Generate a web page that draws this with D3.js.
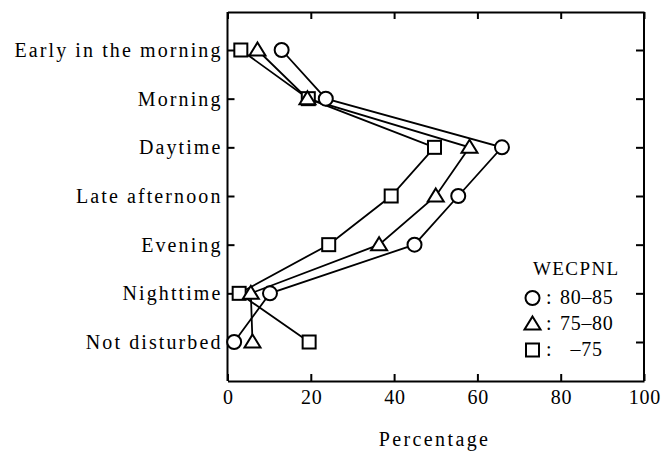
<!DOCTYPE html>
<html>
<head>
<meta charset="utf-8">
<script src="https://cdn.jsdelivr.net/npm/d3@7"></script>
<style>
  body { margin: 0; background: #fff; }
  svg text { font-family: "Liberation Serif", "Times New Roman", Times, serif !important; fill: #000; }
</style>
</head>
<body>
<script>
// categories (top to bottom) and percentages per WECPNL class
var categories = ["Early in the morning", "Morning", "Daytime", "Late afternoon", "Evening", "Nighttime", "Not disturbed"];
var wecpnl80_85 = [13.0, 23.6, 65.9, 55.4, 44.9, 10.2, 1.6];
var wecpnl75_80 = [7.2, 19.2, 58.1, 50.0, 36.4, 5.6, 6.0];
var wecpnlUnder75 = [3.2, 19.4, 49.7, 39.3, 24.3, 2.8, 19.6];
var xTicks = [0, 20, 40, 60, 80, 100];
var legendTitle = "WECPNL";
var legendLabels = ["80\u201385", "75\u201380", "\u201375"];

var width = 667, height = 457;
var frameTop = 12, frameBottom = 381;

var svg = d3.select("body").append("svg")
    .attr("width", width)
    .attr("height", height);

var x = d3.scaleLinear().domain([0, 100]).range([227.5, 644]);
var y = d3.scalePoint().domain(categories).range([50, 342]);

// marker shapes
var shapes = {
  circle: function(g) { g.append("circle").attr("r", 7); },
  triangle: function(g) { g.append("path").attr("d", "M0,-7.5L8,5.5L-8,5.5Z"); },
  square: function(g) { g.append("rect").attr("x", -6.5).attr("y", -6.5).attr("width", 13).attr("height", 13); }
};

// draw order: squares below, circles on top
var series = [
  {values: wecpnlUnder75, shape: "square"},
  {values: wecpnl75_80, shape: "triangle"},
  {values: wecpnl80_85, shape: "circle"}
];

// frame / axes
function styleAxis(g) {
  g.attr("font-family", null);
  g.selectAll(".domain").attr("stroke", "#000").attr("stroke-width", 2);
  g.selectAll(".tick line").attr("stroke", "#000").attr("stroke-width", 2);
}

svg.append("g")
    .attr("transform", "translate(0," + frameBottom + ")")
    .call(d3.axisBottom(x).tickValues(xTicks).tickSizeInner(-7).tickSizeOuter(0).tickPadding(9))
    .call(styleAxis)
    .call(function(g) {
      g.selectAll(".tick text").attr("font-size", 20).attr("letter-spacing", 0.8).attr("dx", 0.4);
    });

svg.append("g")
    .attr("transform", "translate(0," + frameTop + ")")
    .call(d3.axisTop(x).tickValues(xTicks).tickSizeInner(-7).tickSizeOuter(0).tickFormat(""))
    .call(styleAxis);

svg.append("g")
    .attr("transform", "translate(" + x(0) + ",0)")
    .call(d3.axisLeft(y).tickSizeInner(-7).tickSizeOuter(0).tickPadding(5))
    .call(styleAxis)
    .call(function(g) {
      g.select(".domain").attr("d", "M0," + frameTop + "V" + frameBottom);
      g.selectAll(".tick text").attr("font-size", 20).attr("letter-spacing", 2.1);
    });

svg.append("g")
    .attr("transform", "translate(" + x(100) + ",0)")
    .call(d3.axisRight(y).tickSizeInner(-8).tickSizeOuter(0).tickFormat(""))
    .call(styleAxis)
    .call(function(g) {
      g.select(".domain").attr("d", "M0," + frameTop + "V" + frameBottom);
    });

// lines
var line = d3.line()
    .x(function(d) { return x(d[0]); })
    .y(function(d) { return y(d[1]); });

series.forEach(function(s) {
  var pts = s.values.map(function(v, i) { return [v, categories[i]]; });
  svg.append("path")
      .datum(pts)
      .attr("d", line)
      .attr("fill", "none")
      .attr("stroke", "#000")
      .attr("stroke-width", 1.8);
});

// markers
series.forEach(function(s) {
  s.values.forEach(function(v, i) {
    var g = svg.append("g")
        .attr("transform", "translate(" + x(v) + "," + y(categories[i]) + ")")
        .attr("fill", "#fff")
        .attr("stroke", "#000")
        .attr("stroke-width", 2);
    shapes[s.shape](g);
  });
});

// x label
svg.append("text")
    .attr("x", 434.5)
    .attr("y", 446)
    .attr("text-anchor", "middle")
    .attr("font-size", 20)
    .attr("letter-spacing", 2.4)
    .text("Percentage");

// legend
var legend = svg.append("g");
legend.append("text")
    .attr("x", 533)
    .attr("y", 275)
    .attr("font-size", 19)
    .attr("letter-spacing", 1.4)
    .text(legendTitle);

var legendShapes = ["circle", "triangle", "square"];
legendShapes.forEach(function(sh, i) {
  var cy = 298 + i * 26;
  var g = legend.append("g")
      .attr("transform", "translate(532.5," + cy + ")")
      .attr("fill", "#fff")
      .attr("stroke", "#000")
      .attr("stroke-width", 2);
  shapes[sh](g);
  legend.append("text")
      .attr("x", 546)
      .attr("y", cy + 6)
      .attr("font-size", 20)
      .text(":");
  legend.append("text")
      .attr("x", i === 2 ? 570.5 : 560)
      .attr("y", cy + 6)
      .attr("font-size", 20)
      .attr("letter-spacing", 0.7)
      .text(legendLabels[i]);
});
</script>
</body>
</html>
